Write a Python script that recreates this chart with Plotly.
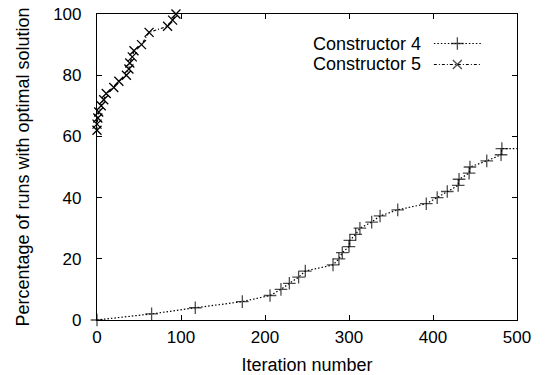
import plotly.graph_objects as go

# Constructor 4 data
c4_iter = [0, 65, 117, 173, 206, 219, 229, 240, 248, 281, 288, 292, 300, 301, 308, 313,
           327, 337, 358, 392, 405, 417, 430, 431, 443, 444, 464, 481, 482, 500]
c4_pct = [0, 2, 4, 6, 8, 10, 12, 14, 16, 18, 20, 22, 24, 26, 28, 30,
          32, 34, 36, 38, 40, 42, 44, 46, 48, 50, 52, 54, 56, 56]

# Constructor 5 data
c5_iter = [0, 0, 1, 2, 5, 8, 11, 20, 26, 35, 38, 39, 42, 44, 53, 62, 84, 90, 94]
c5_pct = [62, 64, 66, 68, 70, 72, 74, 76, 78, 80, 82, 84, 86, 88, 90, 94, 96, 98, 100]

x_ticks = [0, 100, 200, 300, 400, 500]
y_ticks = [0, 20, 40, 60, 80, 100]
names = ["Constructor 4", "Constructor 5"]

FONT = "Liberation Sans, Arial, Helvetica, sans-serif"
FS_TICK = 17
FS = 18

fig = go.Figure()

sizes4 = [9] * (len(c4_iter) - 1) + [0]
fig.add_trace(go.Scatter(
    x=c4_iter, y=c4_pct, mode="lines+markers", name=names[0],
    line=dict(color="black", width=1.2, dash="1.5px,2px"),
    marker=dict(symbol="cross-thin-open", size=sizes4, line=dict(color="black", width=1.3)),
    cliponaxis=False, showlegend=False))

fig.add_trace(go.Scatter(
    x=c5_iter, y=c5_pct, mode="lines+markers", name=names[1],
    line=dict(color="black", width=1.2, dash="3px,2px,1px,2px"),
    marker=dict(symbol="x-thin-open", size=9, line=dict(color="black", width=1.3)),
    cliponaxis=False, showlegend=False))

# custom legend (gnuplot style: text left, sample right) on a hidden overlay axis
leg_y = [0.9036, 0.835]
dashes = ["1.5px,2px", "3px,2px,1px,2px"]
symbols = ["cross-thin-open", "x-thin-open"]
for i in range(2):
    fig.add_trace(go.Scatter(
        x=[0.802, 0.858, 0.914], y=[leg_y[i]] * 3, mode="lines+markers",
        xaxis="x2", yaxis="y2",
        line=dict(color="black", width=1.2, dash=dashes[i]),
        marker=dict(symbol=symbols[i], size=[0, 9, 0], line=dict(color="black", width=1.3)),
        showlegend=False, hoverinfo="skip"))
    fig.add_annotation(x=0.775, y=leg_y[i], xref="x2", yref="y2", text=names[i],
                       showarrow=False, xanchor="right", yanchor="middle",
                       height=18, valign="middle",
                       font=dict(family=FONT, size=FS, color="black"))

axis_common = dict(showline=True, linecolor="black", linewidth=1.2, mirror="allticks",
                   ticks="inside", ticklen=5, tickwidth=1, tickcolor="black",
                   showgrid=False, zeroline=False, automargin=False,
                   tickfont=dict(family=FONT, size=FS_TICK, color="black"))

fig.update_layout(
    width=545, height=375, autosize=False,
    margin=dict(l=97, r=28, t=14, b=55),
    paper_bgcolor="white", plot_bgcolor="white",
    xaxis=dict(range=[0, 500], tickvals=x_ticks, ticklabelstandoff=1,
               title=dict(text="Iteration number", font=dict(family=FONT, size=FS, color="black"), standoff=13),
               **axis_common),
    yaxis=dict(range=[0, 100], tickvals=y_ticks, ticklabelstandoff=11,
               title=dict(text="Percentage of runs with optimal solution",
                          font=dict(family=FONT, size=FS, color="black"), standoff=18),
               **axis_common),
    xaxis2=dict(range=[0, 1], overlaying="x", visible=False, anchor="y2"),
    yaxis2=dict(range=[0, 1], overlaying="y", visible=False, anchor="x2"),
    font=dict(family=FONT, size=FS, color="black"),
)

# remove the default page margin so the figure sits at the window's top-left corner
fig.write_html("out.html", config={"displayModeBar": False},
               post_script="document.body.style.margin='0';")
